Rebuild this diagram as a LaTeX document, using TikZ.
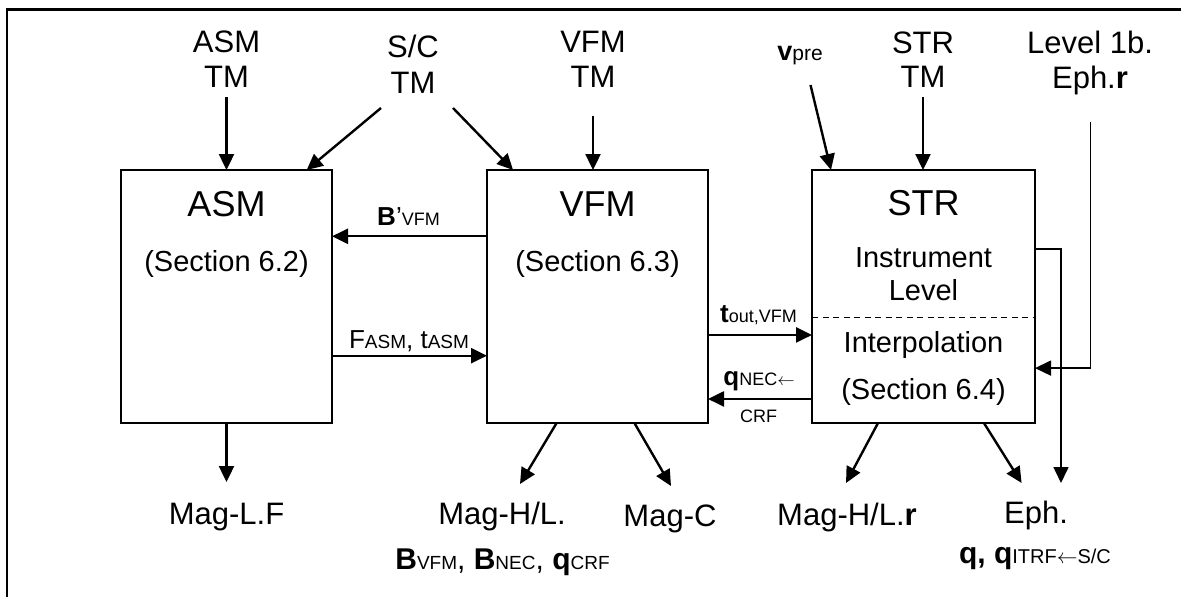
\documentclass[tikz,border=0pt]{standalone}
\usepackage{fontspec}
\setmainfont{Liberation Sans}
\usetikzlibrary{arrows.meta,calc}
\newcommand\fs[1]{\fontsize{#1}{#1}\selectfont}
\newcommand\larr{\ensuremath{\leftarrow}}
\begin{document}
\begin{tikzpicture}[x=1pt,y=-1pt,
  lbl/.style={anchor=base,inner sep=0pt,font=\fs{31}},
  boxlbl/.style={anchor=base,inner sep=0pt,font=\fs{36}},
  seclbl/.style={anchor=base,inner sep=0pt,font=\fs{29}},
  elbl/.style={anchor=base,inner sep=0pt,font=\fs{26}},
  blk/.style={draw,line width=2.2pt,inner sep=0pt,outer sep=0pt,anchor=north west},
  arr/.style={line width=2.4pt,-{Triangle[length=16pt,width=15pt]}},
  thinarr/.style={line width=1.6pt,-{Triangle[length=16pt,width=15pt]}},
  dashline/.style={line width=1.8pt,dash pattern=on 6pt off 4.5pt}
]
\useasboundingbox (0,0) rectangle (1181,597);
\draw[line width=2.2pt] (7,597) -- (7,9.5) -- (1181,9.5);

% blocks
\node[blk,minimum width=211pt,minimum height=253pt] (asm) at (121,170) {};
\node[blk,minimum width=221pt,minimum height=253pt] (vfm) at (487,170) {};
\node[blk,minimum width=223pt,minimum height=253pt] (str) at (812,170) {};

% top labels
\node[lbl] (asmtm1) at (226.5,52) {ASM};
\node[lbl] (asmtm2) at (226.5,87) {TM};
\node[lbl] (sctm1) at (413,57) {S/C};
\node[lbl] (sctm2) at (413,93) {TM};
\node[lbl] (vfmtm1) at (593,52) {VFM};
\node[lbl] (vfmtm2) at (593,87) {TM};
\node[lbl] (strtm1) at (923,53) {STR};
\node[lbl] (strtm2) at (923,87) {TM};
\node[lbl] (lvl1) at (1090,53) {Level 1b.};
\node[lbl] (lvl2) at (1090,88) {Eph.\textbf{r}};
\node[anchor=base,inner sep=0pt] (vpre) at (800,60) {\fs{27}\textbf{v}\fs{21}pre};

% block labels
\node[boxlbl] (asmt) at (226.5,216) {ASM};
\node[seclbl] (asms) at (226.5,271) {(Section 6.2)};
\node[boxlbl] (vfmt) at (597.5,216) {VFM};
\node[seclbl] (vfms) at (597.5,271) {(Section 6.3)};
\node[boxlbl] (strt) at (923.5,215) {STR};
\node[seclbl] (stri1) at (923.5,267) {Instrument};
\node[seclbl] (stri2) at (923.5,300) {Level};
\node[seclbl] (stri3) at (923.5,352) {Interpolation};
\node[seclbl] (strs) at (923.5,399) {(Section 6.4)};
\draw[dashline] ($(str.north west)!0.5826!(str.south west)$) coordinate (dl) -- (dl -| str.east);

% edge labels
\node[elbl] (lb) at (408.5,225) {\textbf{B}’\fs{18}VFM};
\node[elbl] (lf) at (409,348) {F\fs{19}ASM\fs{26}, t\fs{19}ASM};
\node[elbl] (lt) at (758.5,322) {\textbf{t}\fs{18}out,VFM};
\node[elbl] (lq) at (759,385) {\textbf{q}\fs{18}NEC\larr};
\node[anchor=base,inner sep=0pt,font=\fs{18}] (lq2) at (758.5,422) {CRF};

% bottom labels
\node[lbl] (mlf) at (226.5,524) {Mag-L.F};
\node[lbl] (mhl) at (502,524) {Mag-H/L.};
\node[lbl] (mc) at (670,526) {Mag-C};
\node[lbl] (mhlr) at (847,525) {Mag-H/L.\textbf{r}};
\node[lbl] (eph) at (1036,523) {Eph.};
\node[anchor=base,inner sep=0pt] (mhl2) at (502.5,569) {\fs{30}\textbf{B}\fs{19}VFM\fs{30}, \textbf{B}\fs{19}NEC\fs{30}, \textbf{q}\fs{19}CRF};
\node[anchor=base,inner sep=0pt] (eph2) at (1035,563) {\fs{30}\textbf{q, q}\fs{20}ITRF\larr S/C};

% input arrows
\coordinate (c1) at (226.5,97);
\draw[arr] (c1) -- (asm.north);
\coordinate (c2) at (381,108);
\draw[arr] (c2) -- ($(asm.north west)!0.88!(asm.north east)$);
\coordinate (c3) at (453,108);
\draw[arr] (c3) -- ($(vfm.north west)!0.118!(vfm.north east)$);
\coordinate (c4) at (593,116);
\draw[arr] (c4) -- (c4 |- vfm.north);
\coordinate (c5) at (810.5,85);
\draw[arr] (c5) -- ($(str.north west)!0.0852!(str.north east)$);
\coordinate (c6) at (923,97);
\draw[arr] (c6) -- (c6 |- str.north);

% between blocks
\draw[arr] ($(vfm.north west)!0.262!(vfm.south west)$) coordinate (b1) -- (b1 -| asm.east);
\draw[arr] ($(asm.north east)!0.734!(asm.south east)$) coordinate (f1) -- (f1 -| vfm.west);
\draw[arr] ($(vfm.north east)!0.652!(vfm.south east)$) coordinate (t1) -- (t1 -| str.west);
\draw[arr] ($(str.north west)!0.905!(str.south west)$) coordinate (q1) -- (q1 -| vfm.east);

% right loop and level 1b input
\coordinate (l1) at (1061,483);
\draw[thinarr] ($(str.north east)!0.312!(str.south east)$) -| (l1);
\coordinate (l2) at (1090.6,122);
\draw[thinarr] (l2) |- ($(str.north east)!0.783!(str.south east)$);

% outputs
\coordinate (d1) at (226.5,482);
\draw[arr] (asm.south) -- (d1);
\coordinate (d2) at (520,484);
\draw[arr] ($(vfm.south west)!0.315!(vfm.south east)$) -- (d2);
\coordinate (d3) at (671,486);
\draw[arr] ($(vfm.south west)!0.667!(vfm.south east)$) -- (d3);
\coordinate (d4) at (846,483);
\draw[arr] ($(str.south west)!0.296!(str.south east)$) -- (d4);
\coordinate (d5) at (1021.6,483);
\draw[arr] ($(str.south west)!0.771!(str.south east)$) -- (d5);
\end{tikzpicture}
\end{document}
